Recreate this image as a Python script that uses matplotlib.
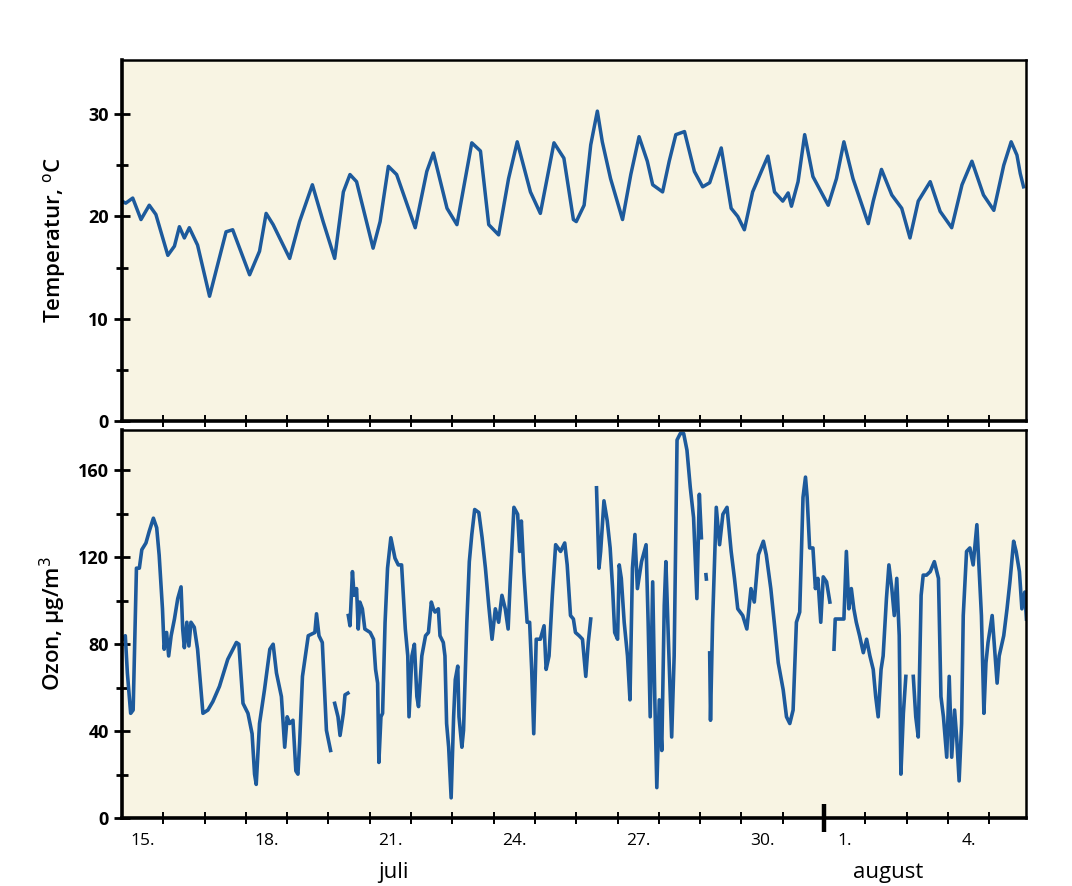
#!/usr/bin/env python3
"""Temperatur og ozon, 15. juli - 5. august (timeværdier)."""

import numpy as np
import matplotlib.pyplot as plt
from matplotlib.ticker import FixedLocator, NullFormatter

plt.rcParams["font.family"] = ["Open Sans", "DejaVu Sans"]

nan = np.nan

# days since 15. juli 00:00
TEMP_DAY = [0.0, 0.09, 0.26, 0.46, 0.66, 0.82, 1.11, 1.27, 1.39, 1.51, 1.63, 1.83,
            2.12, 2.52, 2.68, 3.09, 3.33, 3.49, 3.66, 4.06, 4.30, 4.61, 4.87, 5.15,
            5.36, 5.52, 5.68, 6.08, 6.25, 6.45, 6.65, 7.10, 7.38, 7.54, 7.87, 8.11,
            8.47, 8.68, 8.88, 9.12, 9.36, 9.57, 9.89, 10.13, 10.46, 10.70, 10.93,
            11.0, 11.19, 11.35, 11.51, 11.63, 11.83, 12.12, 12.32, 12.52, 12.72,
            12.85, 13.09, 13.25, 13.41, 13.62, 13.86, 14.06, 14.23, 14.51, 14.75,
            14.91, 15.07, 15.27, 15.48, 15.64, 15.80, 16.0, 16.13, 16.21, 16.37,
            16.53, 16.73, 17.10, 17.30, 17.48, 17.70, 18.07, 18.19, 18.39, 18.64,
            18.88, 19.08, 19.28, 19.57, 19.81, 20.09, 20.34, 20.58, 20.86, 21.11,
            21.35, 21.53, 21.67, 21.75, 21.83]
TEMP_C = [21.5, 21.3, 21.8, 19.7, 21.1, 20.2, 16.2, 17.1, 19.0, 17.9, 18.9, 17.2,
          12.2, 18.5, 18.7, 14.3, 16.6, 20.3, 19.2, 15.9, 19.5, 23.1, 19.5, 15.9,
          22.4, 24.1, 23.4, 16.9, 19.5, 24.9, 24.1, 18.9, 24.4, 26.2, 20.8, 19.2,
          27.2, 26.4, 19.2, 18.2, 23.7, 27.3, 22.4, 20.3, 27.2, 25.7, 19.7,
          19.5, 21.1, 27.0, 30.3, 27.3, 23.7, 19.7, 24.1, 27.8, 25.4,
          23.1, 22.4, 25.4, 28.0, 28.3, 24.4, 22.9, 23.3, 26.7, 20.8,
          20.0, 18.7, 22.4, 24.4, 25.9, 22.4, 21.5, 22.3, 21.0, 23.4,
          28.0, 23.9, 21.1, 23.7, 27.3, 23.7, 19.3, 21.5, 24.6, 22.1,
          20.8, 17.9, 21.5, 23.4, 20.5, 18.9, 23.1, 25.4, 22.1, 20.6,
          25.0, 27.3, 26.0, 24.2, 22.9]

OZON_DAY = [0.01, 0.08, 0.13, 0.21, 0.27, 0.35, 0.42, 0.48, 0.58, 0.66, 0.76, 0.84,
            0.90, 0.98, 1.02, 1.08, 1.13, 1.19, 1.27, 1.35, 1.43, 1.47, 1.51, 1.57,
            1.62, 1.67, 1.75, 1.83, 1.96, 2.08, 2.20, 2.36, 2.56, 2.77, 2.83, 2.93,
            3.05, 3.15, 3.21, 3.25, 3.33, 3.45, 3.58, 3.66, 3.74, 3.86, 3.94, 4.00,
            4.06, 4.14, 4.21, 4.26, 4.30, 4.37, 4.51, 4.67, 4.71, 4.77, 4.85, 4.95,
            5.05, 5.08, 5.15, 5.23, 5.28, 5.36, 5.40, 5.47, 5.475,
            5.48, 5.52, 5.58, 5.62, 5.68, 5.72, 5.76, 5.82, 5.88, 6.01, 6.09, 6.14,
            6.19, 6.22, 6.27, 6.31, 6.37, 6.43, 6.51, 6.61, 6.69, 6.77, 6.86, 6.92,
            6.95, 7.02, 7.08, 7.14, 7.18, 7.26, 7.35, 7.42, 7.49, 7.54, 7.58, 7.66,
            7.70, 7.78, 7.82, 7.86, 7.91, 7.97, 8.03, 8.07, 8.13, 8.16, 8.23, 8.27,
            8.35, 8.41, 8.47, 8.54, 8.64, 8.72, 8.80, 8.88, 8.96, 9.04, 9.12, 9.20,
            9.28, 9.35, 9.40, 9.49, 9.58, 9.63, 9.67, 9.73, 9.81, 9.87, 9.92, 9.97,
            10.03, 10.13, 10.22, 10.27, 10.34, 10.42, 10.50, 10.62, 10.72, 10.78,
            10.86, 10.93, 10.98, 11.07, 11.15, 11.23, 11.29, 11.35, 11.42,
            11.49, 11.55, 11.59, 11.67, 11.75, 11.82, 11.88, 11.93, 12.00, 12.04,
            12.09, 12.16, 12.24, 12.30, 12.36, 12.42, 12.48, 12.58, 12.69, 12.74,
            12.79, 12.85, 12.90, 12.95, 13.01, 13.07, 13.13, 13.17, 13.23, 13.31,
            13.37, 13.44, 13.52, 13.60, 13.68, 13.76, 13.84, 13.92, 13.98, 14.03,
            14.10, 14.14, 14.15, 14.20,
            14.23, 14.25, 14.30, 14.39, 14.47, 14.55, 14.65, 14.75, 14.83, 14.91,
            15.03, 15.13, 15.23, 15.31, 15.41, 15.53, 15.60, 15.71, 15.81, 15.89,
            16.01, 16.09, 16.17, 16.25, 16.33, 16.41, 16.49, 16.55, 16.59, 16.65,
            16.73, 16.79, 16.85, 16.92, 16.98, 17.06, 17.14, 17.20,
            17.24, 17.27, 17.38, 17.48, 17.54, 17.60, 17.66, 17.72, 17.78, 17.86,
            17.95, 18.03, 18.11, 18.19, 18.25, 18.31, 18.38, 18.43, 18.51, 18.57,
            18.64, 18.70, 18.76, 18.82, 18.86, 18.92, 18.98, 19.05,
            19.16, 19.22, 19.28, 19.35, 19.40, 19.48, 19.57, 19.67, 19.77, 19.83,
            19.89, 19.97, 20.03, 20.09, 20.16, 20.21, 20.27, 20.33, 20.37, 20.45,
            20.53, 20.61, 20.70, 20.74, 20.81, 20.87, 20.92, 20.97, 21.07, 21.19,
            21.24, 21.35, 21.43, 21.50, 21.59, 21.65, 21.73, 21.79, 21.86, 21.90]
OZON_UG = [82.3, 83.9, 66.8, 48.2, 49.7, 115.0, 115.0, 123.5, 126.6, 132.0, 138.0, 133.6,
           121.0, 96.3, 77.7, 85.4, 74.6, 83.9, 91.6, 101.0, 106.4, 87.0, 78.4, 90.1,
           79.2, 90.1, 87.8, 77.7, 48.2, 49.7, 53.6, 60.6, 73.0, 80.8, 80.0, 52.8,
           48.2, 38.8, 20.2, 15.5, 43.5, 59.0, 77.7, 80.0, 66.8, 55.9, 32.6, 46.6,
           43.5, 45.0, 21.7, 20.2, 34.2, 65.2, 83.9, 85.4, 94.0, 83.9, 80.8, 40.4,
           31.1, nan, 52.8, 46.6, 38.0, 48.2, 56.7, 57.5, nan,
           93.2, 88.5, 113.4, 102.5, 105.6, 87.0, 99.4, 96.3, 87.0, 85.4, 82.3, 68.4,
           62.1, 25.6, 46.6, 48.2, 90.0, 115.0, 129.0, 119.6, 116.5, 116.5, 87.0, 74.6,
           46.6, 74.6, 80.0, 55.9, 51.3, 74.6, 83.9, 85.4, 99.4, 96.3, 94.8, 96.3,
           83.9, 80.8, 74.6, 43.5, 32.6, 9.3, 46.6, 63.7, 69.9, 46.6, 32.6, 40.4,
           90.1, 118.0, 130.5, 142.0, 140.6, 129.0, 115.0, 97.9, 82.3, 96.3, 90.1, 102.5,
           96.3, 87.0, 108.7, 143.0, 139.8, 122.7, 136.7, 113.4, 90.1, 90.1, 68.4, 38.8,
           82.3, 82.3, 88.5, 68.4, 74.6, 102.5, 125.8, 122.7, 126.6, 116.5,
           93.2, 91.6, 85.4, 83.9, 82.3, 65.2, 80.8, 91.6, nan,
           152.0, 115.0, 122.7, 146.0, 136.7, 124.3, 105.6, 85.4, 82.3, 116.5,
           110.3, 90.1, 74.6, 54.4, 115.0, 130.5, 105.6, 118.0, 125.8, 90.1,
           46.6, 108.7, 55.9, 14.0, 54.4, 31.1, 97.9, 118.0, 82.3, 37.3,
           74.6, 174.0, 177.0, 177.0, 169.3, 152.2, 138.3, 101.0, 149.0, 129.0,
           nan, 112.0, 110.0, nan,
           76.0, 45.0, 90.0, 143.0, 125.8, 139.8, 143.0, 122.7, 110.3, 96.3,
           93.2, 87.0, 105.6, 99.4, 121.2, 127.4, 121.2, 105.6, 87.0, 71.5,
           59.0, 46.6, 43.5, 49.7, 90.1, 94.8, 147.6, 156.9, 147.6, 124.3,
           124.3, 105.6, 110.3, 90.1, 111.0, 108.7, 99.4, nan,
           77.7, 91.6, 91.6, 91.6, 122.7, 96.3, 105.6, 96.3, 90.1, 83.9,
           76.1, 82.3, 74.6, 68.4, 55.9, 46.6, 68.4, 74.6, 101.0, 116.5,
           105.6, 93.2, 110.3, 83.9, 20.2, 48.2, 65.2, nan,
           65.2, 46.6, 37.3, 102.5, 111.8, 111.8, 113.4, 118.0, 110.3, 55.9,
           46.6, 28.0, 65.2, 28.0, 49.7, 37.3, 17.1, 43.5, 93.2, 122.7,
           124.3, 116.5, 135.0, 119.6, 93.2, 48.2, 71.5, 80.8, 93.2, 62.1,
           74.6, 83.9, 96.3, 108.7, 127.4, 122.7, 113.4, 96.3, 104.0, 91.6]

DAY_LABELS = ["15.", "18.", "21.", "24.", "27.", "30.", "1.", "4."]
DAY_LABEL_POS = [0.5, 3.5, 6.5, 9.5, 12.5, 15.5, 17.5, 20.5]
MONTHS = ["juli", "august"]
MONTH_POS = [6.57, 18.55]

LINE = "#1d5a9c"
PAPER = "#f8f4e3"
XMAX = 21.9


def style_x(ax, labels):
    ax.set_xlim(0, XMAX)
    ax.xaxis.set_major_locator(FixedLocator(list(range(1, 22))))
    ax.xaxis.set_major_formatter(NullFormatter())
    ax.tick_params(axis="x", which="major", direction="inout", length=9,
                   width=1.4, color="black")
    ax.xaxis.set_minor_locator(FixedLocator(DAY_LABEL_POS))
    if labels:
        ax.set_xticklabels(DAY_LABELS, minor=True, fontsize=12.5)
        # month boundary
        ax.plot([17, 17], [-0.035, 0.035], transform=ax.get_xaxis_transform(),
                color="black", lw=3.2, clip_on=False, solid_capstyle="butt")
    else:
        ax.xaxis.set_minor_formatter(NullFormatter())
    ax.tick_params(axis="x", which="minor", length=0, pad=11)


def style_frame(ax):
    ax.set_facecolor(PAPER)
    for side in ["left", "bottom"]:
        ax.spines[side].set_linewidth(2.6)
    for side in ["top", "right"]:
        ax.spines[side].set_linewidth(1.8)
    ax.tick_params(axis="y", which="both", direction="inout", width=2.0,
                   labelsize=13, pad=4)
    ax.tick_params(axis="y", which="major", length=11)
    ax.tick_params(axis="y", which="minor", length=9)
    for t in ax.get_yticklabels():
        t.set_fontweight("bold")


fig = plt.figure(figsize=(10.72, 8.86), dpi=100)

ax1 = fig.add_axes([0.1138, 0.5248, 0.8437, 0.4075])
ax1.plot(TEMP_DAY, TEMP_C, color=LINE, lw=2.5, solid_joinstyle="round")
ax1.set_ylim(0, 35.3)
ax1.set_yticks([0, 10, 20, 30])
ax1.set_yticks([5, 15, 25], minor=True)
style_x(ax1, labels=False)
style_frame(ax1)
ax1.set_ylabel("Temperatur, $^{\\mathrm{o}}$C", fontsize=16, fontweight="semibold")

ax2 = fig.add_axes([0.1138, 0.0767, 0.8437, 0.438])
ax2.plot(OZON_DAY, OZON_UG, color=LINE, lw=2.6, solid_joinstyle="round")
ax2.set_ylim(0, 178.6)
ax2.set_yticks([0, 40, 80, 120, 160])
ax2.set_yticks([20, 60, 100, 140], minor=True)
style_x(ax2, labels=True)
style_frame(ax2)
ax2.set_ylabel("Ozon, \u00b5g/m$^3$", fontsize=16, fontweight="semibold")
for m, pos in zip(MONTHS, MONTH_POS):
    ax2.text(pos, -0.14, m, transform=ax2.get_xaxis_transform(),
             ha="center", va="center", fontsize=16)

ax1.yaxis.set_label_coords(-0.06, 0.5)
ax2.yaxis.set_label_coords(-0.06, 0.5)

fig.savefig("out.png", dpi=100)
